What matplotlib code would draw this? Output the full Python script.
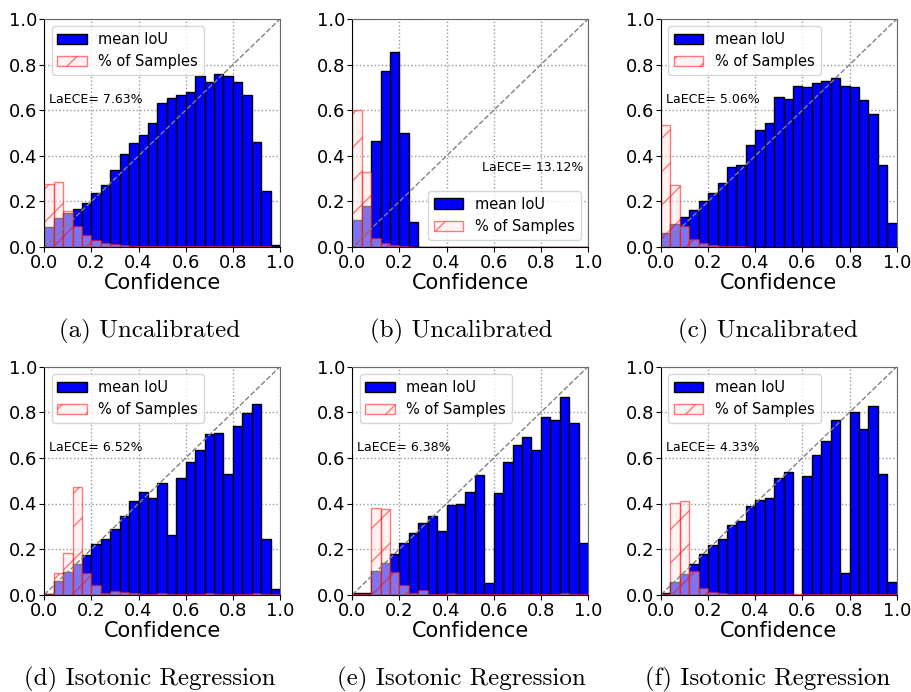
import numpy as np
import matplotlib
matplotlib.use("Agg")
import matplotlib.pyplot as plt

# 25 bins de largura 0.04
bins = np.linspace(0, 1, 26)

# mean IoU por bin (painéis a-f)
iou_a = [0.089, 0.127, 0.147, 0.165, 0.193, 0.235, 0.273, 0.336, 0.410, 0.458,
         0.493, 0.542, 0.632, 0.653, 0.666, 0.679, 0.749, 0.723, 0.758, 0.752,
         0.723, 0.667, 0.460, 0.244, 0.010]
iou_b = [0.117, 0.180, 0.466, 0.771, 0.857, 0.502, 0.109, 0, 0, 0,
         0, 0, 0, 0, 0, 0, 0, 0, 0, 0,
         0, 0, 0, 0, 0]
iou_c = [0.061, 0.100, 0.130, 0.161, 0.200, 0.236, 0.282, 0.350, 0.359, 0.447,
         0.514, 0.543, 0.657, 0.651, 0.705, 0.702, 0.721, 0.728, 0.740, 0.705,
         0.701, 0.644, 0.584, 0.358, 0.107]
iou_d = [0.004, 0.062, 0.098, 0.133, 0.176, 0.223, 0.245, 0.290, 0.343, 0.413,
         0.452, 0.423, 0.489, 0.264, 0.514, 0.580, 0.634, 0.706, 0.709, 0.529,
         0.739, 0.799, 0.836, 0.245, 0.023]
iou_e = [0.006, 0.007, 0.102, 0.138, 0.180, 0.228, 0.272, 0.316, 0.343, 0.281,
         0.394, 0.400, 0.451, 0.524, 0.053, 0.448, 0.583, 0.656, 0.691, 0.635,
         0.780, 0.766, 0.865, 0.755, 0.227]
iou_f = [0.006, 0.054, 0.092, 0.133, 0.177, 0.217, 0.246, 0.307, 0.322, 0.387,
         0.414, 0.422, 0.511, 0.536, 0.0, 0.520, 0.611, 0.673, 0.766, 0.095,
         0.802, 0.725, 0.827, 0.531, 0.057]

# % de amostras por bin
pct_a = [0.277, 0.285, 0.159, 0.092, 0.053, 0.032, 0.018, 0.012, 0.009, 0.006,
         0.005, 0.004, 0.004, 0.003, 0.003, 0.003, 0.003, 0.003, 0.003, 0.003,
         0.003, 0.003, 0.004, 0.003, 0.002]
pct_b = [0.600, 0.328, 0.041, 0.019, 0.010, 0.004, 0.001, 0, 0, 0,
         0, 0, 0, 0, 0, 0, 0, 0, 0, 0,
         0, 0, 0, 0, 0]
pct_c = [0.536, 0.272, 0.092, 0.036, 0.018, 0.010, 0.006, 0.004, 0.003, 0.002,
         0.002, 0.002, 0.002, 0.002, 0.002, 0.002, 0.002, 0.002, 0.002, 0.002,
         0.002, 0.002, 0.002, 0.002, 0.001]
pct_d = [0.004, 0.095, 0.185, 0.474, 0.097, 0.041, 0.007, 0.015, 0.010, 0.009,
         0.004, 0.004, 0.006, 0.003, 0.003, 0.003, 0.003, 0.006, 0.003, 0.003,
         0.003, 0.003, 0.009, 0.003, 0.002]
pct_e = [0.002, 0.002, 0.381, 0.375, 0.098, 0.041, 0.009, 0.022, 0.003, 0.002,
         0.009, 0.003, 0.002, 0.004, 0.003, 0.002, 0.002, 0.002, 0.002, 0.002,
         0.002, 0.002, 0.006, 0.004, 0.002]
pct_f = [0.002, 0.404, 0.410, 0.102, 0.028, 0.013, 0.006, 0.003, 0.002, 0.002,
         0.002, 0.002, 0.002, 0.002, 0.001, 0.002, 0.002, 0.002, 0.002, 0.002,
         0.002, 0.002, 0.002, 0.002, 0.002]

laece = ["7.63", "13.12", "5.06", "6.52", "6.38", "4.33"]
captions = ["(a) Uncalibrated", "(b) Uncalibrated", "(c) Uncalibrated",
            "(d) Isotonic Regression", "(e) Isotonic Regression", "(f) Isotonic Regression"]

iou_all = [iou_a, iou_b, iou_c, iou_d, iou_e, iou_f]
pct_all = [pct_a, pct_b, pct_c, pct_d, pct_e, pct_f]

W, H = 912, 692
fig = plt.figure(figsize=(W / 100, H / 100), dpi=100)

lefts = [44.3, 352.3, 661.0]
tops = [19.0, 366.7]
ax_w, ax_h = 235.7, 228.0
cap_x = [150, 461, 768]
cap_y = [331, 679]

width = bins[1] - bins[0]
centers = bins[:-1] + width / 2

for i in range(6):
    r, c = divmod(i, 3)
    ax = fig.add_axes([lefts[c] / W, 1 - (tops[r] + ax_h) / H, ax_w / W, ax_h / H])
    ax.set_axisbelow(True)
    ax.grid(True, linestyle=':', color='gray', linewidth=1, alpha=0.8)

    ax.bar(centers, iou_all[i], width=width, color='blue', edgecolor='black',
           linewidth=1, label='mean IoU')
    ax.bar(centers, pct_all[i], width=width, facecolor=(1, 0.9, 0.9, 0.5),
           edgecolor=(1, 0, 0, 0.5), hatch='/', linewidth=1, label='% of Samples')
    ax.plot([0, 1], [0, 1], linestyle='--', color='gray', linewidth=1)

    ax.set_xlim(0, 1)
    ax.set_ylim(0, 1)
    ax.set_xticks(np.arange(0, 1.01, 0.2))
    ax.set_yticks(np.arange(0, 1.01, 0.2))
    ax.tick_params(labelsize=13, pad=1.5)
    ax.set_xlabel('Confidence', fontsize=15, labelpad=1)
    for s in ['top', 'right']:
        ax.spines[s].set_color('dimgray')

    if i == 1:
        ax.legend(loc='lower right', fontsize=10.5, framealpha=0.8)
        ax.text(0.55, 0.35, f"LaECE= {laece[i]}%", fontsize=9, va='center')
    else:
        ax.legend(loc='upper left', fontsize=10.5, framealpha=0.8)
        ax.text(0.02, 0.645, f"LaECE= {laece[i]}%", fontsize=9, va='center')

    fig.text(cap_x[c] / W, 1 - cap_y[r] / H, captions[i], fontsize=18,
             family='cmr10', ha='center', va='center')

fig.savefig('out.png', dpi=100)
